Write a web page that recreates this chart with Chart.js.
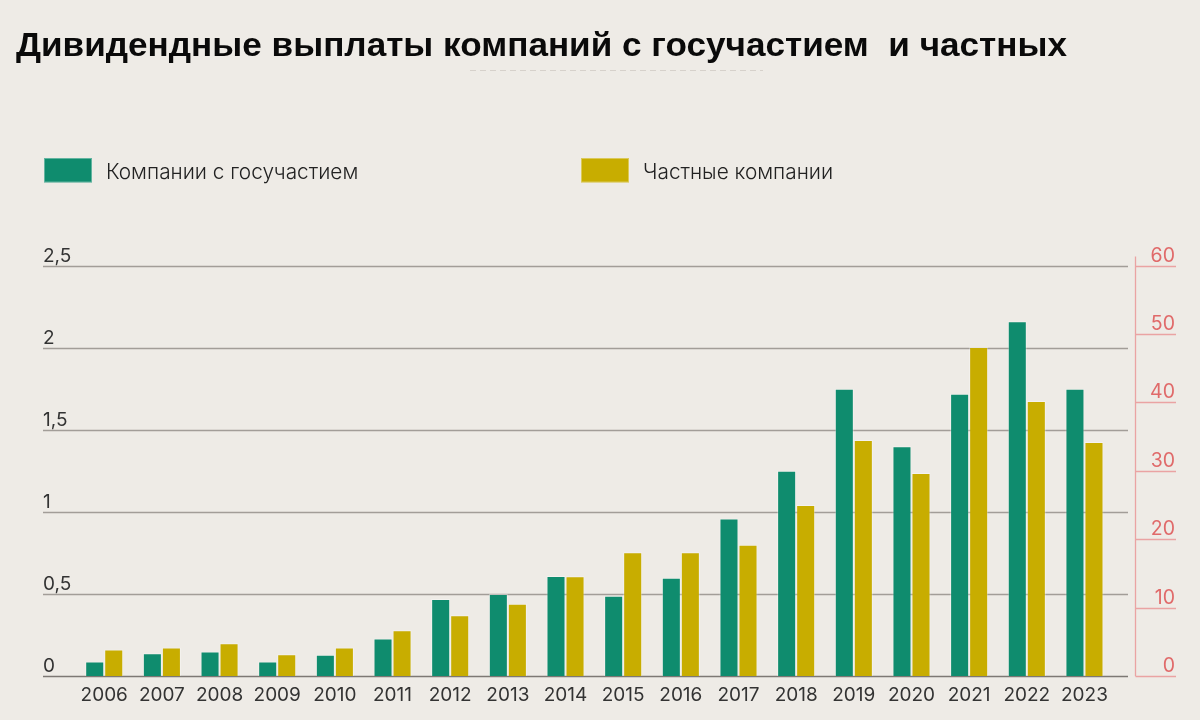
<!DOCTYPE html>
<html lang="ru">
<head>
<meta charset="utf-8">
<script src="https://cdn.jsdelivr.net/npm/chart.js@4/dist/chart.umd.min.js"></script>
<style>
  html, body { margin: 0; padding: 0; background: #eeebe6; }
  #wrap { position: relative; width: 1200px; height: 720px; }
  canvas { display: block; }
</style>
</head>
<body>
<div id="wrap"><canvas id="c" width="1200" height="720"></canvas></div>
<script>
const TITLE = 'Дивидендные выплаты компаний с госучастием  и частных';
const years = ['2006','2007','2008','2009','2010','2011','2012','2013','2014','2015','2016','2017','2018','2019','2020','2021','2022','2023'];
const seriesNames = ['Компании с госучастием', 'Частные компании'];
// state companies, left axis
const stateValues = [0.09, 0.14, 0.15, 0.09, 0.13, 0.23, 0.47, 0.50, 0.61, 0.49, 0.60, 0.96, 1.25, 1.75, 1.40, 1.72, 2.16, 1.75];
// private companies, right axis
const privateValues = [3.9, 4.2, 4.8, 3.2, 4.2, 6.7, 8.9, 10.6, 14.6, 18.1, 18.1, 19.2, 25.0, 34.5, 29.7, 48.1, 40.2, 34.2];
const leftTicks = [0, 0.5, 1, 1.5, 2, 2.5];
const leftTickLabels = ['0', '0,5', '1', '1,5', '2', '2,5'];
const rightTicks = [0, 10, 20, 30, 40, 50, 60];

const GREEN = '#0f8c6e';
const GOLD = '#c8ad00';
const BG = '#eeebe6';

const decor = {
  id: 'decor',
  beforeDraw(chart) {
    const ctx = chart.ctx;
    ctx.save();
    ctx.fillStyle = BG;
    ctx.fillRect(0, 0, chart.width, chart.height);
    // title
    ctx.fillStyle = '#0a0a0a';
    ctx.font = 'bold 34px "Liberation Sans", Arial, sans-serif';
    ctx.textBaseline = 'alphabetic';
    ctx.textAlign = 'left';
    const tw = ctx.measureText(TITLE).width;
    const target = 1051;
    ctx.save();
    ctx.translate(16, 56);
    ctx.scale(target / tw, 1);
    ctx.fillText(TITLE, 0, 0);
    ctx.restore();
    // faint dashed line under title
    ctx.strokeStyle = '#d6d1cb';
    ctx.lineWidth = 1;
    ctx.setLineDash([6, 4]);
    ctx.beginPath();
    ctx.moveTo(470, 70.5);
    ctx.lineTo(763, 70.5);
    ctx.stroke();
    ctx.setLineDash([]);
    // legend
    const legendX = [44, 581];
    chart.data.datasets.forEach((ds, i) => {
      const x = legendX[i];
      ctx.fillStyle = ds.backgroundColor;
      ctx.fillRect(x, 158, 48, 24.5);
      ctx.strokeStyle = 'rgba(255,255,255,0.35)';
      ctx.lineWidth = 1;
      ctx.strokeRect(x + 0.5, 158.5, 47, 23.5);
      ctx.fillStyle = '#222';
      ctx.font = '300 20.8px Inter, "Noto Sans", sans-serif';
      ctx.textBaseline = 'alphabetic';
      ctx.fillText(ds.label, x + 62, 178.5);
    });
    ctx.restore();
  },
  beforeDatasetsDraw(chart) {
    const ctx = chart.ctx;
    const y = chart.scales.y;
    const y1 = chart.scales.y1;
    ctx.save();
    // left grid + labels
    leftTicks.forEach((v, i) => {
      const py = Math.round(y.getPixelForValue(v)) + 0.5;
      ctx.strokeStyle = v === 0 ? '#7d7874' : '#a29d98';
      ctx.lineWidth = 1.3;
      ctx.beginPath();
      ctx.moveTo(43, py);
      ctx.lineTo(1128, py);
      ctx.stroke();
      ctx.fillStyle = '#333';
      ctx.font = '19px Inter, "Noto Sans", sans-serif';
      ctx.textAlign = 'left';
      ctx.textBaseline = 'alphabetic';
      ctx.fillText(leftTickLabels[i], 43, py - 5);
    });
    // right axis
    const top = y1.getPixelForValue(60) - 9;
    const bot = y1.getPixelForValue(0);
    ctx.strokeStyle = '#eaa3a3';
    ctx.lineWidth = 1.3;
    ctx.beginPath();
    ctx.moveTo(1135.5, top);
    ctx.lineTo(1135.5, bot);
    ctx.stroke();
    rightTicks.forEach(v => {
      const py = Math.round(y1.getPixelForValue(v)) + 0.5;
      ctx.strokeStyle = '#eaa3a3';
      ctx.beginPath();
      ctx.moveTo(1135.5, py);
      ctx.lineTo(1176, py);
      ctx.stroke();
      ctx.fillStyle = '#e06a6a';
      ctx.font = '19.5px Inter, "Noto Sans", sans-serif';
      ctx.textAlign = 'right';
      ctx.textBaseline = 'alphabetic';
      ctx.fillText(String(v), 1175, py - 5);
    });
    ctx.restore();
  }
};

new Chart(document.getElementById('c'), {
  type: 'bar',
  data: {
    labels: years,
    datasets: [
      { label: seriesNames[0], data: stateValues, yAxisID: 'y', backgroundColor: GREEN,
        borderColor: 'rgba(255,255,255,0.35)', borderWidth: 1 },
      { label: seriesNames[1], data: privateValues, yAxisID: 'y1', backgroundColor: GOLD,
        borderColor: 'rgba(255,255,255,0.35)', borderWidth: 1 }
    ]
  },
  options: {
    responsive: false,
    animation: false,
    devicePixelRatio: 1,
    layout: { padding: { left: 75.4, right: 86.7, top: 265.5, bottom: 5 } },
    datasets: { bar: { categoryPercentage: 0.66, barPercentage: 1.0 } },
    plugins: { legend: { display: false }, title: { display: false }, tooltip: { enabled: false } },
    scales: {
      x: {
        grid: { display: false, drawTicks: false },
        border: { display: false },
        ticks: { color: '#333', font: { family: 'Inter', size: 19 }, padding: 8, maxRotation: 0, autoSkip: false }
      },
      y: { display: false, min: 0, max: 2.5 },
      y1: { display: false, min: 0, max: 60, position: 'right' }
    }
  },
  plugins: [decor]
});
</script>
</body>
</html>
